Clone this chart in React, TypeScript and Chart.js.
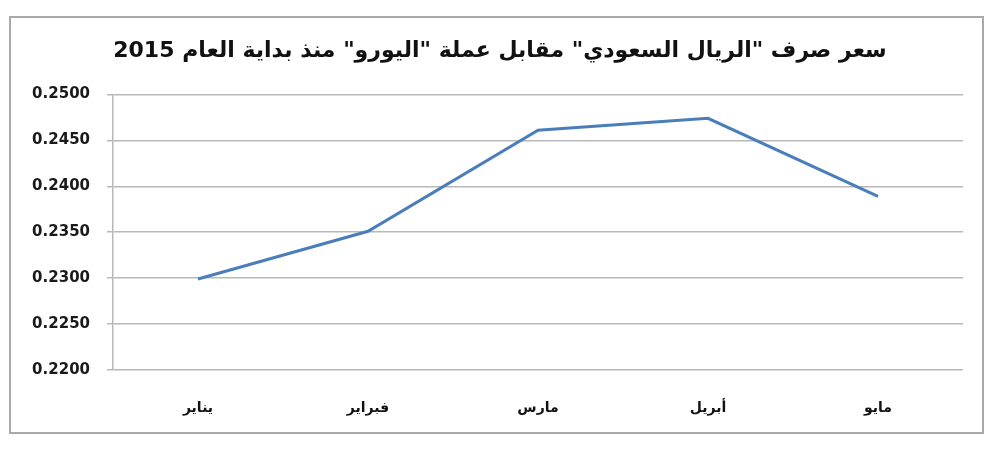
import React, { useEffect, useRef } from "react";
import { Chart, registerables } from "chart.js";

Chart.register(...registerables);

const TITLE = 'سعر صرف "الريال السعودي" مقابل عملة "اليورو" منذ بداية العام 2015';
const MONTHS = ["يناير", "فبراير", "مارس", "أبريل", "مايو"];
const RATES = [0.2299, 0.2351, 0.2461, 0.2474, 0.2389];
const Y_MIN = 0.22;
const Y_MAX = 0.25;
const Y_STEP = 0.005;

const framePlugin = {
  id: "frame",
  beforeDraw(chart: any) {
    const ctx = chart.ctx;
    ctx.save();
    ctx.fillStyle = "#ffffff";
    ctx.fillRect(0, 0, chart.width, chart.height);
    ctx.strokeStyle = "#a9a9a9";
    ctx.lineWidth = 2;
    ctx.strokeRect(10, 17, 973, 416);
    ctx.restore();
  },
};

export default function App() {
  const ref = useRef<HTMLCanvasElement | null>(null);
  useEffect(() => {
    document.body.style.margin = "0";
    const canvas = ref.current;
    if (!canvas) return;
    const chart = new Chart(canvas, {
      type: "line",
      data: {
        labels: MONTHS,
        datasets: [
          {
            data: RATES,
            borderColor: "#4a7ebb",
            borderWidth: 3,
            pointRadius: 0,
            tension: 0,
            fill: false,
          },
        ],
      },
      options: {
        responsive: false,
        animation: false,
        devicePixelRatio: 1,
        layout: { padding: { left: 10, right: 10, top: 0, bottom: 20 } },
        plugins: {
          legend: { display: false },
          tooltip: { enabled: false },
          title: {
            display: true,
            text: TITLE,
            color: "#111111",
            font: { family: "'DejaVu Sans', 'Liberation Sans', sans-serif", size: 22, weight: "bold", lineHeight: 1.2 },
            padding: { top: 38, bottom: 30 },
          },
        },
        scales: {
          x: {
            offset: true,
            grid: { display: false },
            border: { display: false },
            ticks: {
              color: "#111111",
              padding: 22,
              font: { family: "'DejaVu Sans', 'Liberation Sans', sans-serif", size: 14, weight: "bold" },
            },
            afterFit(scale: any) {
              scale.height = 59;
            },
          },
          y: {
            min: Y_MIN,
            max: Y_MAX,
            grid: { color: "#b8b8b8", lineWidth: 1.5, tickLength: 6 },
            border: { display: true, color: "#b8b8b8", width: 1.5 },
            ticks: {
              stepSize: Y_STEP,
              color: "#1a1a1a",
              padding: 17,
              font: { family: "'DejaVu Sans', 'Liberation Sans', sans-serif", size: 15, weight: "bold" },
              callback: (v: any) => Number(v).toFixed(4),
            },
            afterFit(scale: any) {
              scale.width = 103;
            },
          },
          yRight: {
            position: "right",
            min: Y_MIN,
            max: Y_MAX,
            grid: { display: false, drawOnChartArea: false },
            border: { display: false },
            ticks: { display: false },
            afterFit(scale: any) {
              scale.width = 27;
            },
          },
        },
      },
      plugins: [framePlugin],
    });
    return () => chart.destroy();
  }, []);
  return <canvas ref={ref} width={1000} height={449} style={{ display: "block", width: 1000, height: 449 }} />;
}
